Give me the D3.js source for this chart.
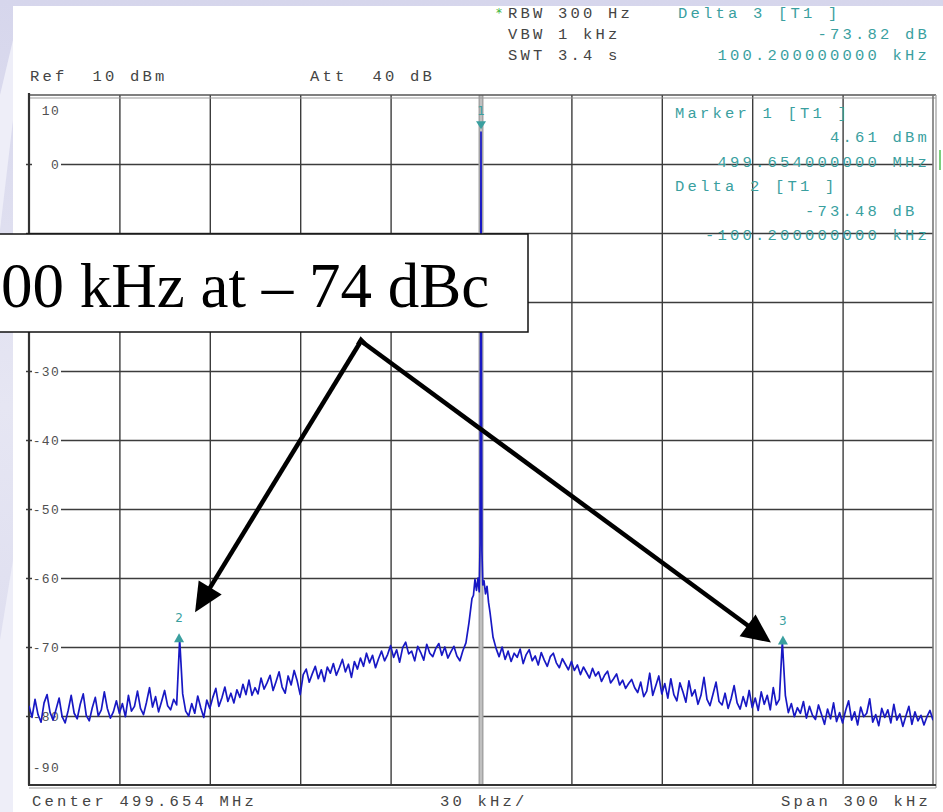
<!DOCTYPE html>
<html>
<head>
<meta charset="utf-8">
<script src="https://cdn.jsdelivr.net/npm/d3@7"></script>
<style>
  html, body { margin: 0; padding: 0; background: #e3e3f1; }
  svg { display: block; }
  .mono { font-family: "Liberation Mono", "DejaVu Sans Mono", monospace; white-space: pre; }
</style>
</head>
<body>
<div id="chart"></div>
<script>
const svgwidth = 943;
const svgheight = 812;

// graticule box of the analyzer screen
var plot = {left: 29, right: 933, top: 95, bottom: 785};

// ---- data ----
const yTicks = [10, 0, -10, -20, -30, -40, -50, -60, -70, -80, -90];
const xGridKHz = [-150, -120, -90, -60, -30, 0, 30, 60, 90, 120, 150];
const sweepStepKHz = 1;

// trace, -150 kHz ... -3 kHz (dBm)
const leftStartKHz = -150;
const leftLevels = [
  -78.5, -80.2, -77.6, -79.8, -80.9, -78.1, -76.9, -79.5, -80.6, -79.0,
  -77.4, -80.1, -81.0, -79.2, -77.0, -79.6, -80.4, -78.3, -76.8, -79.9,
  -80.7, -78.8, -77.3, -80.0, -79.1, -76.5, -78.9, -80.3, -79.4, -77.8,
  -79.6, -78.2, -80.1, -77.0, -79.3, -78.6, -76.4, -78.9, -79.8, -78.0,
  -75.9, -78.7, -77.2, -79.4, -77.9, -76.3, -78.5, -79.1, -77.6, -78.4,
  -68.9,
  -76.8, -79.3, -80.0, -78.2, -79.6, -77.1, -78.8, -80.2, -77.7,
  -78.9, -77.3, -76.0, -78.6, -77.4, -75.8, -77.9, -76.7, -78.1, -76.2,
  -77.3, -75.4, -76.9, -74.8, -77.0, -75.9, -76.8, -74.5, -76.1, -75.2,
  -74.1, -76.3, -75.0, -73.6, -75.8, -76.7, -74.2, -75.5, -73.4, -74.9,
  -76.9, -74.0, -73.2, -75.1, -73.9, -72.8, -74.6, -73.3, -75.0, -72.9,
  -73.8, -72.4, -74.1, -73.0, -71.8, -73.6, -72.5, -74.4, -72.1, -73.2,
  -71.6, -72.8, -70.9, -72.3, -71.2, -73.0, -71.7, -70.6, -72.0, -71.1,
  -69.8, -71.5, -70.4, -72.2, -70.1, -69.3, -71.0, -70.6, -72.0, -69.9,
  -70.8, -71.9, -69.6, -70.9, -71.4, -70.2, -69.5, -71.2, -70.0, -71.6,
  -70.7, -69.9, -71.3, -72.0, -70.5, -69.4, -66.5, -63.0
];

// carrier and its pedestal, -2.5 kHz ... +2.5 kHz (dBm)
const carrierKHz = [-2.5, -2.0, -1.5, -1.0, -0.6, -0.3, -0.1, 0, 0.1, 0.3, 0.6, 1.0, 1.5, 2.0, 2.5];
const carrierLevels = [-62.5, -60.2, -61.8, -60.0, -62.0, -55.0, -20.0, 4.61, -22.0, -56.0, -61.0, -60.4, -62.3, -61.2, -63.5];

// trace, +3 kHz ... +150 kHz (dBm)
const rightStartKHz = 3;
const rightLevels = [
  -65.0, -68.6, -70.2, -71.4, -70.0, -71.8, -70.6, -72.1,
  -70.9, -71.5, -70.3, -72.4, -71.1, -70.4, -72.0, -71.3, -72.6, -70.8,
  -71.9, -72.8, -71.4, -70.9, -72.3, -73.0, -71.7, -72.5, -73.3, -72.1,
  -73.4, -72.6, -74.0, -72.9, -73.7, -74.5, -73.1, -74.2, -73.6, -75.0,
  -74.1, -73.5, -75.2, -74.6, -73.9, -75.5, -74.8, -76.0, -75.3, -74.7,
  -75.9, -76.6, -75.1, -77.2, -76.4, -73.8, -77.0, -75.6, -74.2, -76.8,
  -75.3, -77.4, -74.6, -76.9, -77.8, -75.2, -76.5, -78.0, -74.9, -77.1,
  -76.2, -78.3, -77.0, -74.4, -77.6, -78.5, -76.8, -75.1, -77.9, -78.4,
  -76.7, -78.9, -77.5, -75.6, -78.1, -79.0, -77.2, -78.6, -76.3, -78.8,
  -77.4, -79.2, -76.5, -78.3, -77.0, -79.1, -75.9, -78.4, -77.6,
  -69.2,
  -77.0, -79.5, -78.2, -80.1, -78.8, -79.6, -77.9, -80.3, -78.6, -79.9,
  -80.5, -78.4, -79.8, -81.2, -79.0, -80.4, -78.1, -80.8, -79.5, -81.0,
  -79.2, -77.8, -80.6, -79.4, -81.3, -78.7, -80.1, -79.6, -77.5, -80.9,
  -79.8, -81.4, -78.9, -80.2, -79.1, -81.0, -78.3, -80.6, -79.7, -81.5,
  -80.0, -78.6, -81.2, -79.4, -80.7, -79.9, -81.3, -80.1, -79.2, -80.6
];

// markers
const markerNames = ["1", "2", "3"];
const markerKHz = [0, -100.2, 100.2];
const markerDbm = [4.61, -68.87, -69.21];

// instrument texts
const headerLeft = ["Ref  10 dBm", "Att  40 dB"];
const headerSetup = ["RBW 300 Hz", "VBW 1 kHz", "SWT 3.4 s"];
const headerDelta3 = ["Delta 3 [T1 ]", "-73.82 dB", "100.200000000 kHz"];
const markerBlock = ["Marker 1 [T1 ]", "4.61 dBm", "499.654000000 MHz", "Delta 2 [T1 ]", "-73.48 dB ", "-100.200000000 kHz"];
const footer = ["Center 499.654 MHz", "30 kHz/", "Span 300 kHz"];
const calloutText = "00 kHz at \u2013 74 dBc";

const teal = "#3a9f9f";
const grey = "#3c3c3c";

// callout box (slide overlay)
var callout = {x: -2, y: 234, w: 530, h: 98};

// scales
var xs = d3.scaleLinear().domain([-150, 150]).range([plot.left, plot.right]);
var ys = d3.scaleLinear().domain([-90, 10]).range([plot.bottom, plot.top]);

var svg = d3.select("#chart")
  .append("svg")
  .attr("width", svgwidth)
  .attr("height", svgheight);

// background of the slide + white screenshot panel
var defs = svg.append("defs");
var grad = defs.append("linearGradient").attr("id", "side").attr("x1", 0).attr("y1", 0).attr("x2", 0).attr("y2", 1);
grad.append("stop").attr("offset", "0").attr("stop-color", "#d6d6ec");
grad.append("stop").attr("offset", "0.5").attr("stop-color", "#e6e6f3");
grad.append("stop").attr("offset", "1").attr("stop-color", "#dadaee");
svg.append("rect").attr("width", svgwidth).attr("height", svgheight).attr("fill", "url(#side)");
svg.append("path")
  .attr("d", "M0,95 L13,40 L13,120 L0,230 Z M0,640 L13,560 L13,812 L0,812 Z")
  .attr("fill", "#eeeef8");
svg.append("rect").attr("x", 13).attr("y", 6).attr("width", svgwidth - 13).attr("height", svgheight - 6).attr("fill", "#ffffff");

defs.append("clipPath").attr("id", "plotclip")
  .append("rect")
  .attr("x", plot.left).attr("y", plot.top)
  .attr("width", plot.right - plot.left).attr("height", plot.bottom - plot.top);

// grid lines through d3 axes
var gy = svg.append("g")
  .attr("transform", `translate(${plot.left},0)`)
  .call(d3.axisLeft(ys).tickValues(yTicks.slice(1, -1)).tickSize(-(plot.right - plot.left + 3)).tickFormat(""));
gy.select(".domain").remove();
gy.selectAll("line").attr("stroke", grey).attr("stroke-width", 1.4).attr("transform", "translate(-3,0)");

var gx = svg.append("g")
  .attr("transform", `translate(0,${plot.top})`)
  .call(d3.axisTop(xs).tickValues(xGridKHz.slice(1, -1).filter(d => d !== 0)).tickSize(-(plot.bottom - plot.top)).tickFormat(""));
gx.select(".domain").remove();
gx.selectAll("line").attr("stroke", grey).attr("stroke-width", 1.4);

// centre line (grey, wide)
svg.append("line")
  .attr("x1", xs(0)).attr("x2", xs(0))
  .attr("y1", plot.top).attr("y2", plot.bottom)
  .attr("stroke", "#a4a4a4").attr("stroke-width", 5);
svg.append("line")
  .attr("x1", xs(0)).attr("x2", xs(0))
  .attr("y1", plot.top).attr("y2", plot.bottom)
  .attr("stroke", "#d4d4d4").attr("stroke-width", 1.2);

// frame
svg.append("line").attr("x1", plot.left).attr("x2", plot.right + 3).attr("y1", plot.top).attr("y2", plot.top).attr("stroke", "#555").attr("stroke-width", 1.6);
svg.append("line").attr("x1", plot.left).attr("x2", plot.right + 3).attr("y1", plot.top + 3).attr("y2", plot.top + 3).attr("stroke", "#9a9a9a").attr("stroke-width", 1.2);
svg.append("line").attr("x1", plot.right).attr("x2", plot.right).attr("y1", plot.top).attr("y2", plot.bottom).attr("stroke", "#777").attr("stroke-width", 1.6);
svg.append("line").attr("x1", plot.right + 3).attr("x2", plot.right + 3).attr("y1", plot.top).attr("y2", plot.bottom + 3).attr("stroke", "#aaa").attr("stroke-width", 1.4);
svg.append("line").attr("x1", plot.left - 1).attr("x2", plot.right + 3).attr("y1", plot.bottom).attr("y2", plot.bottom).attr("stroke", "#333").attr("stroke-width", 2);
svg.append("line").attr("x1", plot.left).attr("x2", plot.right + 3).attr("y1", plot.bottom + 3).attr("y2", plot.bottom + 3).attr("stroke", "#999").attr("stroke-width", 1.2);
svg.append("line").attr("x1", plot.left).attr("x2", plot.left).attr("y1", plot.top - 2).attr("y2", plot.bottom).attr("stroke", "#333").attr("stroke-width", 2.2);

// reference level tick on the right
svg.append("line").attr("x1", 940).attr("x2", 940).attr("y1", ys(0) - 14).attr("y2", ys(0) + 6).attr("stroke", "#7ccf7c").attr("stroke-width", 2);

// y labels inside the graticule (the one under the callout box is hidden there)
function labelY(t) {
  if (t === 10) return ys(t) + 15;
  if (t === -90) return ys(t) - 18;
  return ys(t);
}
var shownTicks = yTicks.filter(t => labelY(t) + 6 < callout.y || labelY(t) - 6 > callout.y + callout.h);
svg.selectAll(".ybg")
  .data(shownTicks.filter(t => t !== 10 && t !== -90))
  .enter().append("rect")
  .attr("x", 32).attr("y", d => ys(d) - 6)
  .attr("width", 29).attr("height", 12)
  .attr("fill", "#fff");
svg.selectAll(".ylab")
  .data(shownTicks)
  .enter().append("text")
  .attr("class", "mono")
  .attr("x", 60)
  .attr("y", d => labelY(d))
  .attr("dy", "0.35em")
  .attr("text-anchor", "end")
  .attr("font-size", 13)
  .attr("letter-spacing", 1.3)
  .attr("fill", "#505050")
  .text(d => d);

// trace
var trace = [];
leftLevels.forEach((v, i) => trace.push([leftStartKHz + i * sweepStepKHz, v]));
carrierKHz.forEach((f, i) => trace.push([f, carrierLevels[i]]));
rightLevels.forEach((v, i) => trace.push([rightStartKHz + i * sweepStepKHz, v]));

var line = d3.line()
  .x(d => xs(d[0]))
  .y(d => ys(d[1]));

svg.append("path")
  .datum(trace)
  .attr("clip-path", "url(#plotclip)")
  .attr("d", line)
  .attr("fill", "none")
  .attr("stroke", "#1818c4")
  .attr("stroke-width", 1.7)
  .attr("stroke-linejoin", "round");

// markers
markerNames.forEach(function(name, i) {
  var mx = xs(markerKHz[i]);
  var my = ys(markerDbm[i]);
  var tri = i === 0
    ? `M${mx - 5},${my - 11} L${mx + 5},${my - 11} L${mx},${my - 3} Z`
    : `M${mx - 5},${my + 3} L${mx + 5},${my + 3} L${mx},${my - 6} Z`;
  svg.append("path").attr("d", tri).attr("fill", teal);
  svg.append("text")
    .attr("x", mx).attr("y", my - 17)
    .attr("text-anchor", "middle")
    .attr("font-family", "DejaVu Sans, sans-serif")
    .attr("font-size", 12)
    .attr("fill", teal)
    .text(name);
});

// instrument header / footer text
function mono(x, y, str, colour, anchor) {
  svg.append("text")
    .attr("class", "mono")
    .attr("x", x).attr("y", y)
    .attr("text-anchor", anchor || "start")
    .attr("font-size", 15.5)
    .attr("letter-spacing", 3.2)
    .attr("fill", colour)
    .text(str);
}
mono(30, 81, headerLeft[0], "#444");
mono(310, 81, headerLeft[1], "#444");
svg.append("text").attr("x", 496).attr("y", 17).attr("font-size", 12).attr("font-family", "DejaVu Sans").attr("fill", "#3cb43c").text("*");
headerSetup.forEach((s, i) => mono(508, 18 + i * 21, s, "#444"));
mono(678, 18, headerDelta3[0], teal);
mono(930, 39, headerDelta3[1], teal, "end");
mono(930, 60, headerDelta3[2], teal, "end");
markerBlock.forEach(function(s, i) {
  var y = 118 + i * 24.4;
  if (i === 0 || i === 3) mono(675, y, s, teal);
  else mono(930, y, s, teal, "end");
});
mono(32, 806, footer[0], "#444");
mono(440, 806, footer[1], "#444");
mono(931, 806, footer[2], "#444", "end");

// callout box with arrows
svg.append("rect")
  .attr("x", callout.x).attr("y", callout.y)
  .attr("width", callout.w).attr("height", callout.h)
  .attr("fill", "#fff")
  .attr("stroke", "#111")
  .attr("stroke-width", 1.5);
svg.append("text")
  .attr("x", 1).attr("y", 307)
  .attr("font-family", "Liberation Serif, Times New Roman, serif")
  .attr("font-size", 63)
  .attr("fill", "#000")
  .text(calloutText);

var apex = [361, 341];
var tips = [
  [xs(markerKHz[1]) + 16, ys(markerDbm[1]) - 27],
  [xs(markerKHz[2]) - 12, ys(markerDbm[2]) + 1]
];
tips.forEach(function(t) {
  var dx = t[0] - apex[0], dy = t[1] - apex[1];
  var len = Math.sqrt(dx * dx + dy * dy);
  var ux = dx / len, uy = dy / len;
  var headLen = 29, half = 13.5;
  var bx = t[0] - ux * headLen, by = t[1] - uy * headLen;
  svg.append("line")
    .attr("x1", apex[0]).attr("y1", apex[1])
    .attr("x2", bx + ux * 2).attr("y2", by + uy * 2)
    .attr("stroke", "#000").attr("stroke-width", 4.5);
  svg.append("path")
    .attr("d", `M${t[0]},${t[1]} L${bx - uy * half},${by + ux * half} L${bx + uy * half},${by - ux * half} Z`)
    .attr("fill", "#000");
});
svg.append("path")
  .attr("d", `M${apex[0] - 3},${apex[1] + 4} L${apex[0]},${apex[1] - 1} L${apex[0] + 4},${apex[1] + 3}`)
  .attr("fill", "none").attr("stroke", "#000").attr("stroke-width", 4.5).attr("stroke-linejoin", "miter");
</script>
</body>
</html>
